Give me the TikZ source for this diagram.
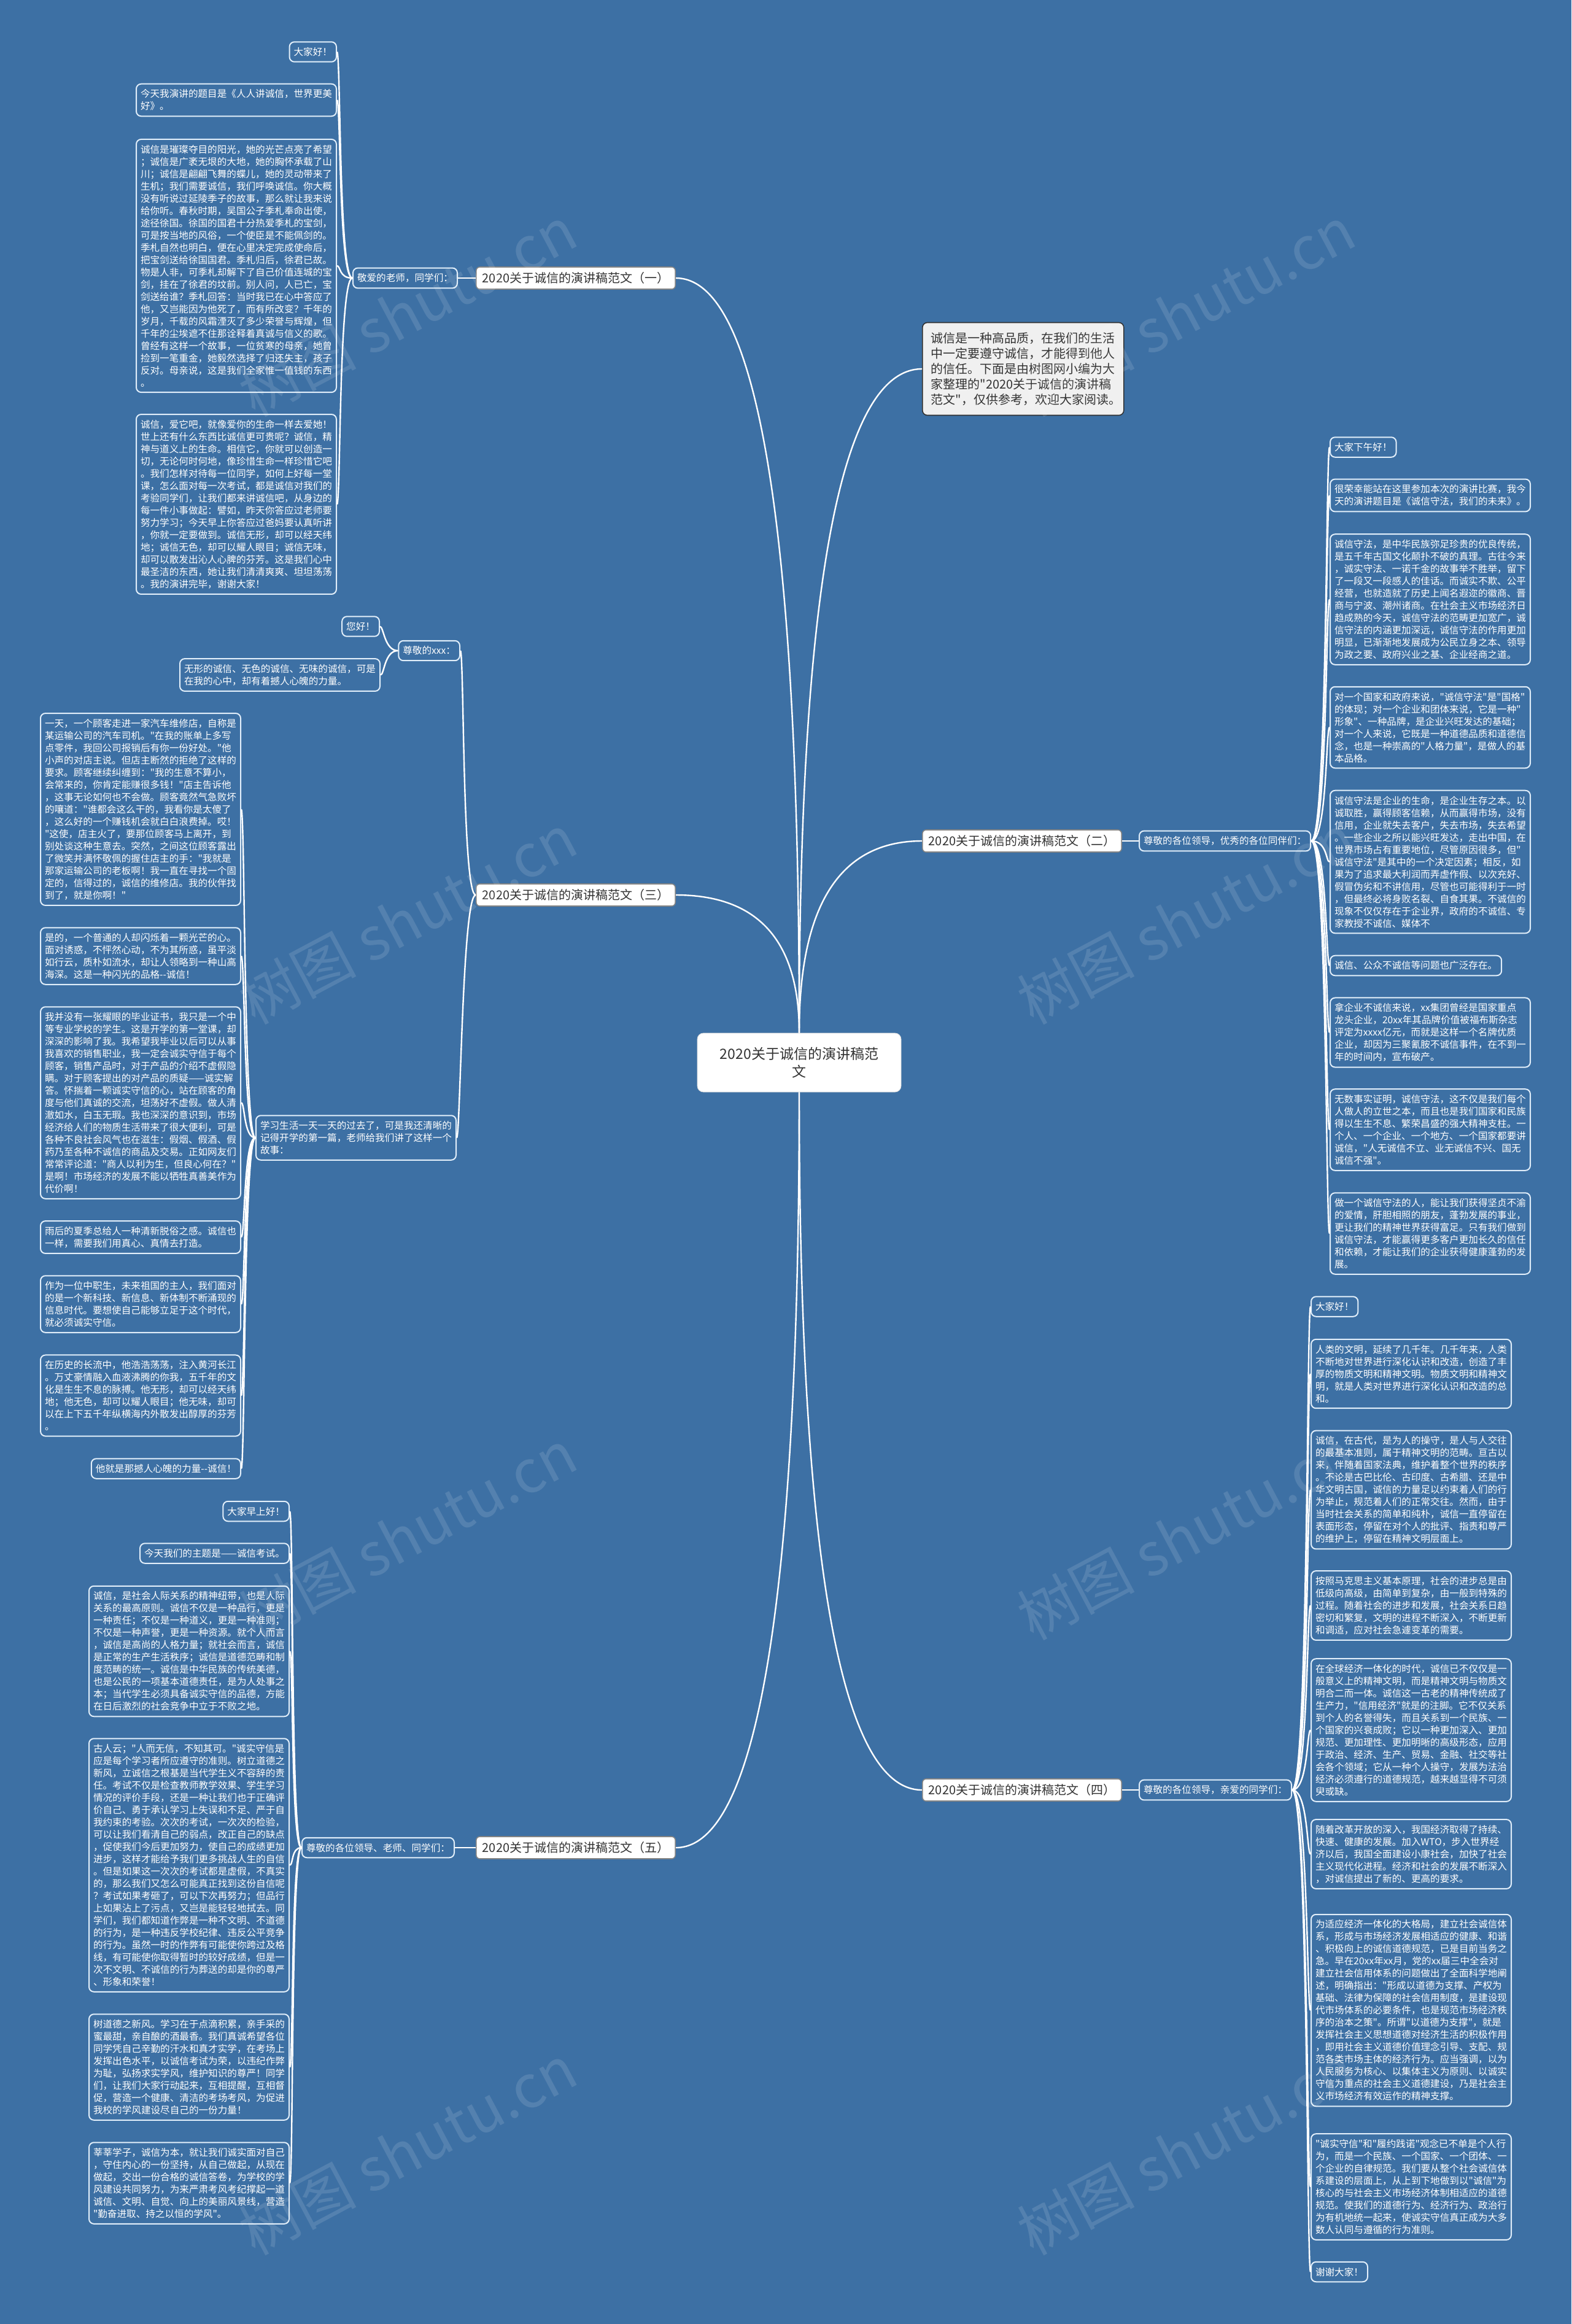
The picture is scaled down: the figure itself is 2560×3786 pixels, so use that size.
\documentclass[tikz,border=0pt]{standalone}
\usepackage{fontspec}
\newfontfamily\zh{Noto Sans CJK SC}
\definecolor{bg}{RGB}{61,112,164}
\definecolor{rim}{RGB}{225,238,250}
\definecolor{ink}{RGB}{51,51,51}
\begin{document}
\begin{tikzpicture}[x=0.5pt,y=-0.5pt,
 leaf/.style={draw=rim,line width=1pt,fill=bg,text=white,rounded corners=4pt,inner xsep=3.5pt,inner ysep=4.5pt,align=left,font=\zh\fontsize{7.8pt}{10pt}\selectfont},
 para/.style={leaf,text width=156pt},
 branch/.style={draw=ink!60,line width=.8pt,fill=white,text=ink,rounded corners=3pt,inner xsep=5pt,minimum height=18pt,font=\zh\fontsize{10pt}{12pt}\selectfont},
 root/.style={draw=white!85!black,fill=white,text=ink,rounded corners=5pt,align=center,minimum width=166pt,minimum height=48pt,font=\zh\fontsize{11.5pt}{14.5pt}\selectfont},
 note/.style={draw=ink,line width=.8pt,fill=black!6,text=ink,rounded corners=4pt,align=left,text width=150pt,inner xsep=7pt,inner ysep=8pt,font=\zh\fontsize{10pt}{12.5pt}\selectfont},
 ln/.style={draw=white,line width=1.2pt}]
 \useasboundingbox (0,0) rectangle (2560,3786);
 \fill[bg] (0,0) rectangle (2560,3786);

 \node[root] (root) at (1302,1731) {2020关于诚信的演讲稿范\\文};
 \node[note,anchor=west] (intro) at (1502,601) {诚信是一种高品质，在我们的生活\\中一定要遵守诚信，才能得到他人\\的信任。下面是由树图网小编为大\\家整理的"2020关于诚信的演讲稿\\范文"，仅供参考，欢迎大家阅读。};

 \node[branch,anchor=east] (b1) at (1101,453) {2020关于诚信的演讲稿范文（一）};
 \node[leaf,anchor=east] (s1) at (746,453) {敬爱的老师，同学们：};
 \node[leaf,anchor=east] (a1) at (549,84.5) {大家好！};
 \node[para,anchor=east] (a2) at (549,163) {今天我演讲的题目是《人人讲诚信，世界更美\\好》。};
 \node[para,anchor=east] (a3) at (549,433) {诚信是璀璨夺目的阳光，她的光芒点亮了希望\\；诚信是广袤无垠的大地，她的胸怀承载了山\\川；诚信是翩翩飞舞的蝶儿，她的灵动带来了\\生机；我们需要诚信，我们呼唤诚信。你大概\\没有听说过延陵季子的故事，那么就让我来说\\给你听。春秋时期，吴国公子季札奉命出使，\\途径徐国。徐国的国君十分热爱季札的宝剑，\\可是按当地的风俗，一个使臣是不能佩剑的。\\季札自然也明白，便在心里决定完成使命后，\\把宝剑送给徐国国君。季札归后，徐君已故。\\物是人非，可季札却解下了自己价值连城的宝\\剑，挂在了徐君的坟前。别人问，人已亡，宝\\剑送给谁？季札回答：当时我已在心中答应了\\他，又岂能因为他死了，而有所改变？千年的\\岁月，千载的风霜湮灭了多少荣誉与辉煌，但\\千年的尘埃遮不住那诠释着真诚与信义的歌。\\曾经有这样一个故事，一位贫寒的母亲，她曾\\捡到一笔重金，她毅然选择了归还失主，孩子\\反对。母亲说，这是我们全家惟一值钱的东西\\。};
 \node[para,anchor=east] (a4) at (549,821.5) {诚信，爱它吧，就像爱你的生命一样去爱她！\\世上还有什么东西比诚信更可贵呢？诚信，精\\神与道义上的生命。相信它，你就可以创造一\\切，无论何时何地，像珍惜生命一样珍惜它吧\\。我们怎样对待每一位同学，如何上好每一堂\\课，怎么面对每一次考试，都是诚信对我们的\\考验同学们，让我们都来讲诚信吧，从身边的\\每一件小事做起：譬如，昨天你答应过老师要\\努力学习；今天早上你答应过爸妈要认真听讲\\，你就一定要做到。诚信无形，却可以经天纬\\地；诚信无色，却可以耀人眼目；诚信无味，\\却可以散发出沁人心脾的芬芳。这是我们心中\\最圣洁的东西，她让我们清清爽爽、坦坦荡荡\\。我的演讲完毕，谢谢大家！};

 \node[branch,anchor=east] (b3) at (1101,1458) {2020关于诚信的演讲稿范文（三）};
 \node[leaf,anchor=east] (t1) at (750,1060) {尊敬的xxx：};
 \node[leaf,anchor=east] (c1) at (619,1020.5) {您好！};
 \node[para,anchor=east] (c2) at (620,1099.5) {无形的诚信、无色的诚信、无味的诚信，可是\\在我的心中，却有着撼人心魄的力量。};
 \node[para,anchor=east] (t2) at (744,1853.5) {学习生活一天一天的过去了，可是我还清晰的\\记得开学的第一篇，老师给我们讲了这样一个\\故事：};
 \node[para,anchor=east] (d1) at (393,1318.5) {一天，一个顾客走进一家汽车维修店，自称是\\某运输公司的汽车司机。"在我的账单上多写\\点零件，我回公司报销后有你一份好处。"他\\小声的对店主说。但店主断然的拒绝了这样的\\要求。顾客继续纠缠到："我的生意不算小，\\会常来的，你肯定能赚很多钱！"店主告诉他\\，这事无论如何也不会做。顾客竟然气急败坏\\的嚷道："谁都会这么干的，我看你是太傻了\\，这么好的一个赚钱机会就白白浪费掉。哎！\\"这使，店主火了，要那位顾客马上离开，到\\别处谈这种生意去。突然，之间这位顾客露出\\了微笑并满怀敬佩的握住店主的手："我就是\\那家运输公司的老板啊！我一直在寻找一个固\\定的，信得过的，诚信的维修店。我的伙伴找\\到了，就是你啊！"};
 \node[para,anchor=east] (d2) at (393,1557.5) {是的，一个普通的人却闪烁着一颗光芒的心。\\面对诱惑，不怦然心动，不为其所惑，虽平淡\\如行云，质朴如流水，却让人领略到一种山高\\海深。这是一种闪光的品格-{}-诚信！};
 \node[para,anchor=east] (d3) at (393,1796.5) {我并没有一张耀眼的毕业证书，我只是一个中\\等专业学校的学生。这是开学的第一堂课，却\\深深的影响了我。我希望我毕业以后可以从事\\我喜欢的销售职业，我一定会诚实守信于每个\\顾客，销售产品时，对于产品的介绍不虚假隐\\瞒。对于顾客提出的对产品的质疑——诚实解\\答。怀揣着一颗诚实守信的心，站在顾客的角\\度与他们真诚的交流，坦荡好不虚假。做人清\\澈如水，白玉无瑕。我也深深的意识到，市场\\经济给人们的物质生活带来了很大便利，可是\\各种不良社会风气也在滋生：假烟、假酒、假\\药乃至各种不诚信的商品及交易。正如网友们\\常常评论道："商人以利为生，但良心何在？"\\是啊！市场经济的发展不能以牺牲真善美作为\\代价啊！};
 \node[para,anchor=east] (d4) at (393,2015.5) {雨后的夏季总给人一种清新脱俗之感。诚信也\\一样，需要我们用真心、真情去打造。};
 \node[para,anchor=east] (d5) at (393,2124.5) {作为一位中职生，未来祖国的主人，我们面对\\的是一个新科技、新信息、新体制不断涌现的\\信息时代。要想使自己能够立足于这个时代，\\就必须诚实守信。};
 \node[para,anchor=east] (d6) at (393,2273.5) {在历史的长流中，他浩浩荡荡，注入黄河长江\\。万丈豪情融入血液沸腾的你我，五千年的文\\化是生生不息的脉搏。他无形，却可以经天纬\\地；他无色，却可以耀人眼目；他无味，却可\\以在上下五千年纵横海内外散发出醇厚的芬芳\\。};
 \node[leaf,anchor=east] (d7) at (393,2392.5) {他就是那撼人心魄的力量-{}-诚信！};

 \node[branch,anchor=east] (b5) at (1101,3010) {2020关于诚信的演讲稿范文（五）};
 \node[leaf,anchor=east] (s5) at (741,3010) {尊敬的各位领导、老师、同学们：};
 \node[leaf,anchor=east] (e1) at (472,2462) {大家早上好！};
 \node[leaf,anchor=east] (e2) at (472,2530.5) {今天我们的主题是——诚信考试。};
 \node[para,anchor=east] (e3) at (472,2690) {诚信，是社会人际关系的精神纽带，也是人际\\关系的最高原则。诚信不仅是一种品行，更是\\一种责任；不仅是一种道义，更是一种准则；\\不仅是一种声誉，更是一种资源。就个人而言\\，诚信是高尚的人格力量；就社会而言，诚信\\是正常的生产生活秩序；诚信是道德范畴和制\\度范畴的统一。诚信是中华民族的传统美德，\\也是公民的一项基本道德责任，是为人处事之\\本；当代学生必须具备诚实守信的品德，方能\\在日后激烈的社会竞争中立于不败之地。};
 \node[para,anchor=east] (e4) at (472,3038.5) {古人云；"人而无信，不知其可。"诚实守信是\\应是每个学习者所应遵守的准则。树立道德之\\新风，立诚信之根基是当代学生义不容辞的责\\任。考试不仅是检查教师教学效果、学生学习\\情况的评价手段，还是一种让我们也于正确评\\价自己、勇于承认学习上失误和不足、严于自\\我约束的考验。次次的考试，一次次的检验，\\可以让我们看清自己的弱点，改正自己的缺点\\，促使我们今后更加努力，使自己的成绩更加\\进步，这样才能给予我们更多挑战人生的自信\\。但是如果这一次次的考试都是虚假，不真实\\的，那么我们又怎么可能真正找到这份自信呢\\？考试如果考砸了，可以下次再努力；但品行\\上如果沾上了污点，又岂是能轻轻地拭去。同\\学们，我们都知道作弊是一种不文明、不道德\\的行为，是一种违反学校纪律、违反公平竞争\\的行为。虽然一时的作弊有可能使你跨过及格\\线，有可能使你取得暂时的较好成绩，但是一\\次不文明、不诚信的行为葬送的却是你的尊严\\、形象和荣誉！};
 \node[para,anchor=east] (e5) at (472,3367.5) {树道德之新风。学习在于点滴积累，亲手采的\\蜜最甜，亲自酿的酒最香。我们真诚希望各位\\同学凭自己辛勤的汗水和真才实学，在考场上\\发挥出色水平，以诚信考试为荣，以违纪作弊\\为耻，弘扬求实学风，维护知识的尊严！同学\\们，让我们大家行动起来，互相提醒，互相督\\促，营造一个健康、清洁的考场考风，为促进\\我校的学风建设尽自己的一份力量！};
 \node[para,anchor=east] (e6) at (472,3556.5) {莘莘学子，诚信为本，就让我们诚实面对自己\\，守住内心的一份坚持，从自己做起，从现在\\做起，交出一份合格的诚信答卷，为学校的学\\风建设共同努力，为来严肃考风考纪撑起一道\\诚信、文明、自觉、向上的美丽风景线，营造\\"勤奋进取、持之以恒的学风"。};

 \node[branch,anchor=west] (b2) at (1502,1370) {2020关于诚信的演讲稿范文（二）};
 \node[leaf,anchor=west] (s2) at (1855,1370) {尊敬的各位领导，优秀的各位同伴们：};
 \node[leaf,anchor=west] (f1) at (2166,728.5) {大家下午好！};
 \node[para,anchor=west] (f2) at (2166,807) {很荣幸能站在这里参加本次的演讲比赛，我今\\天的演讲题目是《诚信守法，我们的未来》。};
 \node[para,anchor=west] (f3) at (2166,976.5) {诚信守法，是中华民族弥足珍贵的优良传统，\\是五千年古国文化颠扑不破的真理。古往今来\\，诚实守法、一诺千金的故事举不胜举，留下\\了一段又一段感人的佳话。而诚实不欺、公平\\经营，也就造就了历史上闻名遐迩的徽商、晋\\商与宁波、潮州诸商。在社会主义市场经济日\\趋成熟的今天，诚信守法的范畴更加宽广，诚\\信守法的内涵更加深远，诚信守法的作用更加\\明显，已渐渐地发展成为公民立身之本、领导\\为政之要、政府兴业之基、企业经商之道。};
 \node[para,anchor=west] (f4) at (2166,1185) {对一个国家和政府来说，"诚信守法"是"国格"\\的体现；对一个企业和团体来说，它是一种"\\形象"、一种品牌，是企业兴旺发达的基础；\\对一个人来说，它既是一种道德品质和道德信\\念，也是一种崇高的"人格力量"，是做人的基\\本品格。};
 \node[para,anchor=west] (f5) at (2166,1404) {诚信守法是企业的生命，是企业生存之本。以\\诚取胜，赢得顾客信赖，从而赢得市场，没有\\信用，企业就失去客户，失去市场，失去希望\\。一些企业之所以能兴旺发达，走出中国，在\\世界市场占有重要地位，尽管原因很多，但"\\诚信守法"是其中的一个决定因素；相反，如\\果为了追求最大利润而弄虚作假、以次充好、\\假冒伪劣和不讲信用，尽管也可能得利于一时\\，但最终必将身败名裂、自食其果。不诚信的\\现象不仅仅存在于企业界，政府的不诚信、专\\家教授不诚信、媒体不};
 \node[leaf,anchor=west] (f6) at (2166,1573) {诚信、公众不诚信等问题也广泛存在。};
 \node[para,anchor=west] (f7) at (2166,1682) {拿企业不诚信来说，xx集团曾经是国家重点\\龙头企业，20xx年其品牌价值被福布斯杂志\\评定为xxxx亿元，而就是这样一个名牌优质\\企业，却因为三聚氰胺不诚信事件，在不到一\\年的时间内，宣布破产。};
 \node[para,anchor=west] (f8) at (2166,1840.5) {无数事实证明，诚信守法，这不仅是我们每个\\人做人的立世之本，而且也是我们国家和民族\\得以生生不息、繁荣昌盛的强大精神支柱。一\\个人、一个企业、一个地方、一个国家都要讲\\诚信，"人无诚信不立、业无诚信不兴、国无\\诚信不强"。};
 \node[para,anchor=west] (f9) at (2166,2009.5) {做一个诚信守法的人，能让我们获得坚贞不渝\\的爱情，肝胆相照的朋友，蓬勃发展的事业，\\更让我们的精神世界获得富足。只有我们做到\\诚信守法，才能赢得更多客户更加长久的信任\\和依赖，才能让我们的企业获得健康蓬勃的发\\展。};

 \node[branch,anchor=west] (b4) at (1502,2916) {2020关于诚信的演讲稿范文（四）};
 \node[leaf,anchor=west] (s4) at (1855,2916) {尊敬的各位领导，亲爱的同学们：};
 \node[leaf,anchor=west] (g1) at (2135,2128.5) {大家好！};
 \node[para,anchor=west] (g2) at (2135,2238) {人类的文明，延续了几千年。几千年来，人类\\不断地对世界进行深化认识和改造，创造了丰\\厚的物质文明和精神文明。物质文明和精神文\\明，就是人类对世界进行深化认识和改造的总\\和。};
 \node[para,anchor=west] (g3) at (2135,2427) {诚信，在古代，是为人的操守，是人与人交往\\的最基本准则，属于精神文明的范畴。亘古以\\来，伴随着国家法典，维护着整个世界的秩序\\。不论是古巴比伦、古印度、古希腊、还是中\\华文明古国，诚信的力量足以约束着人们的行\\为举止，规范着人们的正常交往。然而，由于\\当时社会关系的简单和纯朴，诚信一直停留在\\表面形态，停留在对个人的批评、指责和尊严\\的维护上，停留在精神文明层面上。};
 \node[para,anchor=west] (g4) at (2135,2615.5) {按照马克思主义基本原理，社会的进步总是由\\低级向高级，由简单到复杂，由一般到特殊的\\过程。随着社会的进步和发展，社会关系日趋\\密切和繁复，文明的进程不断深入，不断更新\\和调适，应对社会急遽变革的需要。};
 \node[para,anchor=west] (g5) at (2135,2818.5) {在全球经济一体化的时代，诚信已不仅仅是一\\般意义上的精神文明，而是精神文明与物质文\\明合二而一体。诚信这一古老的精神传统成了\\生产力，"信用经济"就是的注脚。它不仅关系\\到个人的名誉得失，而且关系到一个民族、一\\个国家的兴衰成败；它以一种更加深入、更加\\规范、更加理性、更加明晰的高级形态，应用\\于政治、经济、生产、贸易、金融、社交等社\\会各个领域；它从一种个人操守，发展为法治\\经济必须遵行的道德规范，越来越显得不可须\\臾或缺。};
 \node[para,anchor=west] (g6) at (2135,3020.5) {随着改革开放的深入，我国经济取得了持续、\\快速、健康的发展。加入WTO，步入世界经\\济以后，我国全面建设小康社会，加快了社会\\主义现代化进程。经济和社会的发展不断深入\\，对诚信提出了新的、更高的要求。};
 \node[para,anchor=west] (g7) at (2135,3275) {为适应经济一体化的大格局，建立社会诚信体\\系，形成与市场经济发展相适应的健康、和谐\\、积极向上的诚信道德规范，已是目前当务之\\急。早在20xx年xx月，党的xx届三中全会对\\建立社会信用体系的问题做出了全面科学地阐\\述，明确指出："形成以道德为支撑、产权为\\基础、法律为保障的社会信用制度，是建设现\\代市场体系的必要条件，也是规范市场经济秩\\序的治本之策"。所谓"以道德为支撑"，就是\\发挥社会主义思想道德对经济生活的积极作用\\，即用社会主义道德价值理念引导、支配、规\\范各类市场主体的经济行为。应当强调，以为\\人民服务为核心、以集体主义为原则、以诚实\\守信为重点的社会主义道德建设，乃是社会主\\义市场经济有效运作的精神支撑。};
 \node[para,anchor=west] (g8) at (2135,3562.5) {"诚实守信"和"履约践诺"观念已不单是个人行\\为，而是一个民族、一个国家、一个团体、一\\个企业的自律规范。我们要从整个社会诚信体\\系建设的层面上，从上到下地做到以"诚信"为\\核心的与社会主义市场经济体制相适应的道德\\规范。使我们的道德行为、经济行为、政治行\\为有机地统一起来，使诚实守信真正成为大多\\数人认同与遵循的行为准则。};
 \node[leaf,anchor=west] (g9) at (2135,3701) {谢谢大家！};

 \draw[ln] (root.north) .. controls +(0,-721) and +(-133,0) .. (intro.west);
 \draw[ln] (root.north) .. controls +(0,-820) and +(134,0) .. (b1.east);
 \draw[ln] (root.north) .. controls +(0,-150) and +(134,0) .. (b3.east);
 \draw[ln] (root.north) .. controls +(0,-209) and +(-133,0) .. (b2.west);
 \draw[ln] (root.south) .. controls +(0,820) and +(134,0) .. (b5.east);
 \draw[ln] (root.south) .. controls +(0,757) and +(-133,0) .. (b4.west);
 \draw[ln] (b1.west) -- (s1.east);
 \draw[ln] (b5.west) -- (s5.east);
 \draw[ln] (b2.east) -- (s2.west);
 \draw[ln] (b4.east) -- (s4.west);
 \foreach \n in {t1,t2} \draw[ln] (b3.west) .. controls +(-22,0) and +(6,0) .. (\n.east);
 \foreach \n in {c1,c2} \draw[ln] (t1.west) .. controls +(-22,0) and +(6,0) .. (\n.east);
 \foreach \i in {1,...,4} \draw[ln] (s1.west) .. controls +(-22,0) and +(6,0) .. (a\i.east);
 \foreach \i in {1,...,7} \draw[ln] (t2.west) .. controls +(-19,0) and +(6,0) .. (d\i.east);
 \foreach \i in {1,...,6} \draw[ln] (s5.west) .. controls +(-17,0) and +(6,0) .. (e\i.east);
 \foreach \i in {1,...,9} \draw[ln] (s2.east) .. controls +(26,0) and +(-6,0) .. (f\i.west);
 \foreach \i in {1,...,9} \draw[ln] (s4.east) .. controls +(26,0) and +(-6,0) .. (g\i.west);

 \foreach \x in {664,1932} \foreach \y in {507,1497,2500,3502}
  \node[rotate=28,text=white,opacity=.12,font=\zh\fontsize{48pt}{48pt}\selectfont] (wm-\x-\y) at (\x,\y) {树图 shutu.cn};
\end{tikzpicture}
\end{document}
